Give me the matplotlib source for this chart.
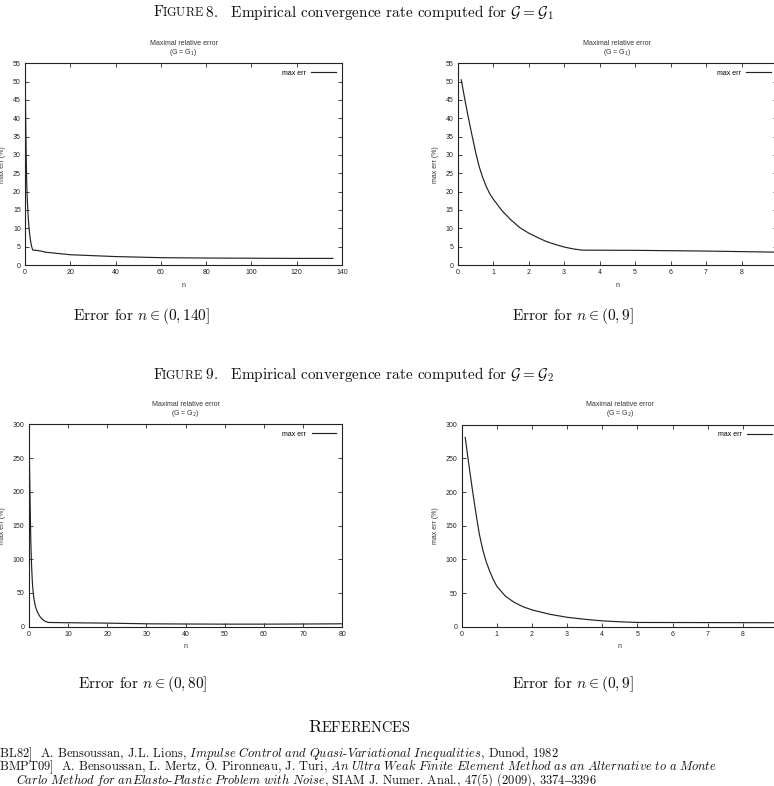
import matplotlib
matplotlib.use("Agg")
import matplotlib.pyplot as plt

# data (max relative error in %, vs n)
n_g1 = [0.1, 0.2, 0.3, 0.4, 0.5, 0.6, 0.7, 0.8, 0.9, 1.0, 1.25, 1.5, 1.75,
        2.0, 2.25, 2.5, 2.75, 3.0, 3.25, 3.5, 5, 7, 9, 20, 40, 60, 80,
        100, 120, 136]
err_g1 = [50.5, 45.2, 40.2, 35.5, 31.0, 27.0, 24.0, 21.5, 19.5, 18.0, 14.8,
          12.3, 10.2, 8.7, 7.5, 6.4, 5.6, 4.9, 4.4, 4.05, 4.0, 3.8, 3.5,
          2.8, 2.3, 2.0, 1.9, 1.85, 1.8, 1.8]

n_g2 = [0.1, 0.2, 0.3, 0.4, 0.5, 0.6, 0.7, 0.8, 0.9, 1.0, 1.25, 1.5, 1.75,
        2.0, 2.5, 3.0, 3.5, 4.0, 4.5, 5.0, 6, 7, 8, 9, 10, 20, 30, 40, 50,
        60, 70, 80]
err_g2 = [281, 242, 205, 170, 138, 114, 96, 82, 70, 60, 45, 36, 29.5, 25,
          18.5, 14, 11, 8.7, 7.3, 6.3, 6.2, 6.1, 6.0, 5.9, 5.9, 5.3, 4.3,
          4.0, 3.8, 3.8, 4.0, 4.3]

xticks_g1_full = [0, 20, 40, 60, 80, 100, 120, 140]
xticks_g2_full = [0, 10, 20, 30, 40, 50, 60, 70, 80]
xticks_zoom = [0, 1, 2, 3, 4, 5, 6, 7, 8, 9]
yticks_g1 = [0, 5, 10, 15, 20, 25, 30, 35, 40, 45, 50, 55]
yticks_g2 = [0, 50, 100, 150, 200, 250, 300]

W, H = 774, 786
plt.rcParams['font.family'] = ['Liberation Sans', 'DejaVu Sans']
plt.rcParams['mathtext.fontset'] = 'cm'

fig = plt.figure(figsize=(W / 100, H / 100), dpi=100)


def px_axes(left, top, right, bottom):
    # axes box given in page pixels
    return fig.add_axes([left / W, 1 - bottom / H, (right - left) / W,
                         (bottom - top) / H])


def draw_panel(ax, n, err, sub, xlim, xticks, ylim, yticks):
    ax.plot(n, err, color='#222222', lw=0.85, label='max err')
    ax.set_xlim(xlim)
    ax.set_ylim(ylim)
    ax.set_xticks(xticks)
    ax.set_yticks(yticks)
    ax.tick_params(direction='in', top=True, right=True, length=3,
                   width=0.6, labelsize=5, pad=3, colors='#222222')
    for s in ax.spines.values():
        s.set_linewidth(0.8)
        s.set_color('#222222')
    ax.set_title("Maximal relative error\n(G = G$_%s$)" % sub, fontsize=5,
                 pad=7, linespacing=1.0, color='#333333',
                 math_fontfamily='dejavusans')
    ax.set_xlabel("n", fontsize=5, labelpad=4, color='#333333')
    ax.set_ylabel("max err (%)", fontsize=5, labelpad=5, color='#333333')
    ax.legend(loc='upper right', frameon=False, fontsize=5, markerfirst=False,
              handlelength=3.5, borderaxespad=0.5, handletextpad=0.8)


ax1 = px_axes(25, 63.3, 342, 265)
draw_panel(ax1, n_g1, err_g1, '1', (0, 140), xticks_g1_full, (0, 55), yticks_g1)
ax2 = px_axes(457.7, 63.3, 777, 265)
draw_panel(ax2, n_g1, err_g1, '1', (0, 9), xticks_zoom, (0, 55), yticks_g1)
ax3 = px_axes(28.7, 424.3, 342.3, 626.7)
draw_panel(ax3, n_g2, err_g2, '2', (0, 80), xticks_g2_full, (0, 300), yticks_g2)
ax4 = px_axes(461.7, 424.7, 778, 626.7)
draw_panel(ax4, n_g2, err_g2, '2', (0, 9), xticks_zoom, (0, 300), yticks_g2)

renderer = fig.canvas.get_renderer()


def put_line(pieces, y_px, x_px, align='center', join=2.5):
    # pieces of text in a row on one baseline, sizes may differ
    texts = []
    for s, size in pieces:
        texts.append(fig.text(0, 1 - y_px / H, s, fontsize=size, va='baseline',
                              ha='left', color='#111111',
                              math_fontfamily='cm'))
    widths = [t.get_window_extent(renderer).width - join for t in texts]
    x = x_px - sum(widths) / 2 if align == 'center' else x_px
    for t, w in zip(texts, widths):
        t.set_x(x / W)
        x += w


def heading(num, sub, y_px):
    put_line([(r"$\text{F}$", 11), (r"$\text{IGURE}$", 8.8),
              (r"$\ \text{%s.}\ \ \ \text{Empirical convergence rate "
               r"computed for }\mathcal{G} = \mathcal{G}_%s$" % (num, sub), 11)],
             y_px, 352)


heading(8, 1, 16.5)
heading(9, 2, 379)

put_line([(r"$\text{Error for }n \in (0, 140]$", 11)], 320, 140)
put_line([(r"$\text{Error for }n \in (0, 9]$", 11)], 320, 572)
put_line([(r"$\text{Error for }n \in (0, 80]$", 11)], 688, 141)
put_line([(r"$\text{Error for }n \in (0, 9]$", 11)], 688, 572)

put_line([(r"$\text{R}$", 13), (r"$\text{EFERENCES}$", 10.4)], 732, 358)

put_line([(r"$\text{[BL82]  A. Bensoussan, J.L. Lions, }"
           r"\mathit{Impulse\ Control\ and\ Quasi}\text{-}"
           r"\mathit{Variational\ Inequalities}\text{, Dunod, 1982}$", 9)],
         757, -4, align='left')
put_line([(r"$\text{[BMPT09]  A. Bensoussan, L. Mertz, O. Pironneau, J. Turi, }"
           r"\mathit{An\ Ultra\ Weak\ Finite\ Element\ Method\ as\ an\ "
           r"Alternative\ to\ a\ Monte}$", 9)],
         770.5, -4, align='left')
put_line([(r"$\mathit{Carlo\ Method\ for\ anElasto}\text{-}"
           r"\mathit{Plastic\ Problem\ with\ Noise}"
           r"\text{, SIAM J. Numer. Anal., }\mathbf{47(5)}"
           r"\text{ (2009), 3374–3396}$", 9)],
         784, 16, align='left')

fig.savefig("out.png", dpi=100)
